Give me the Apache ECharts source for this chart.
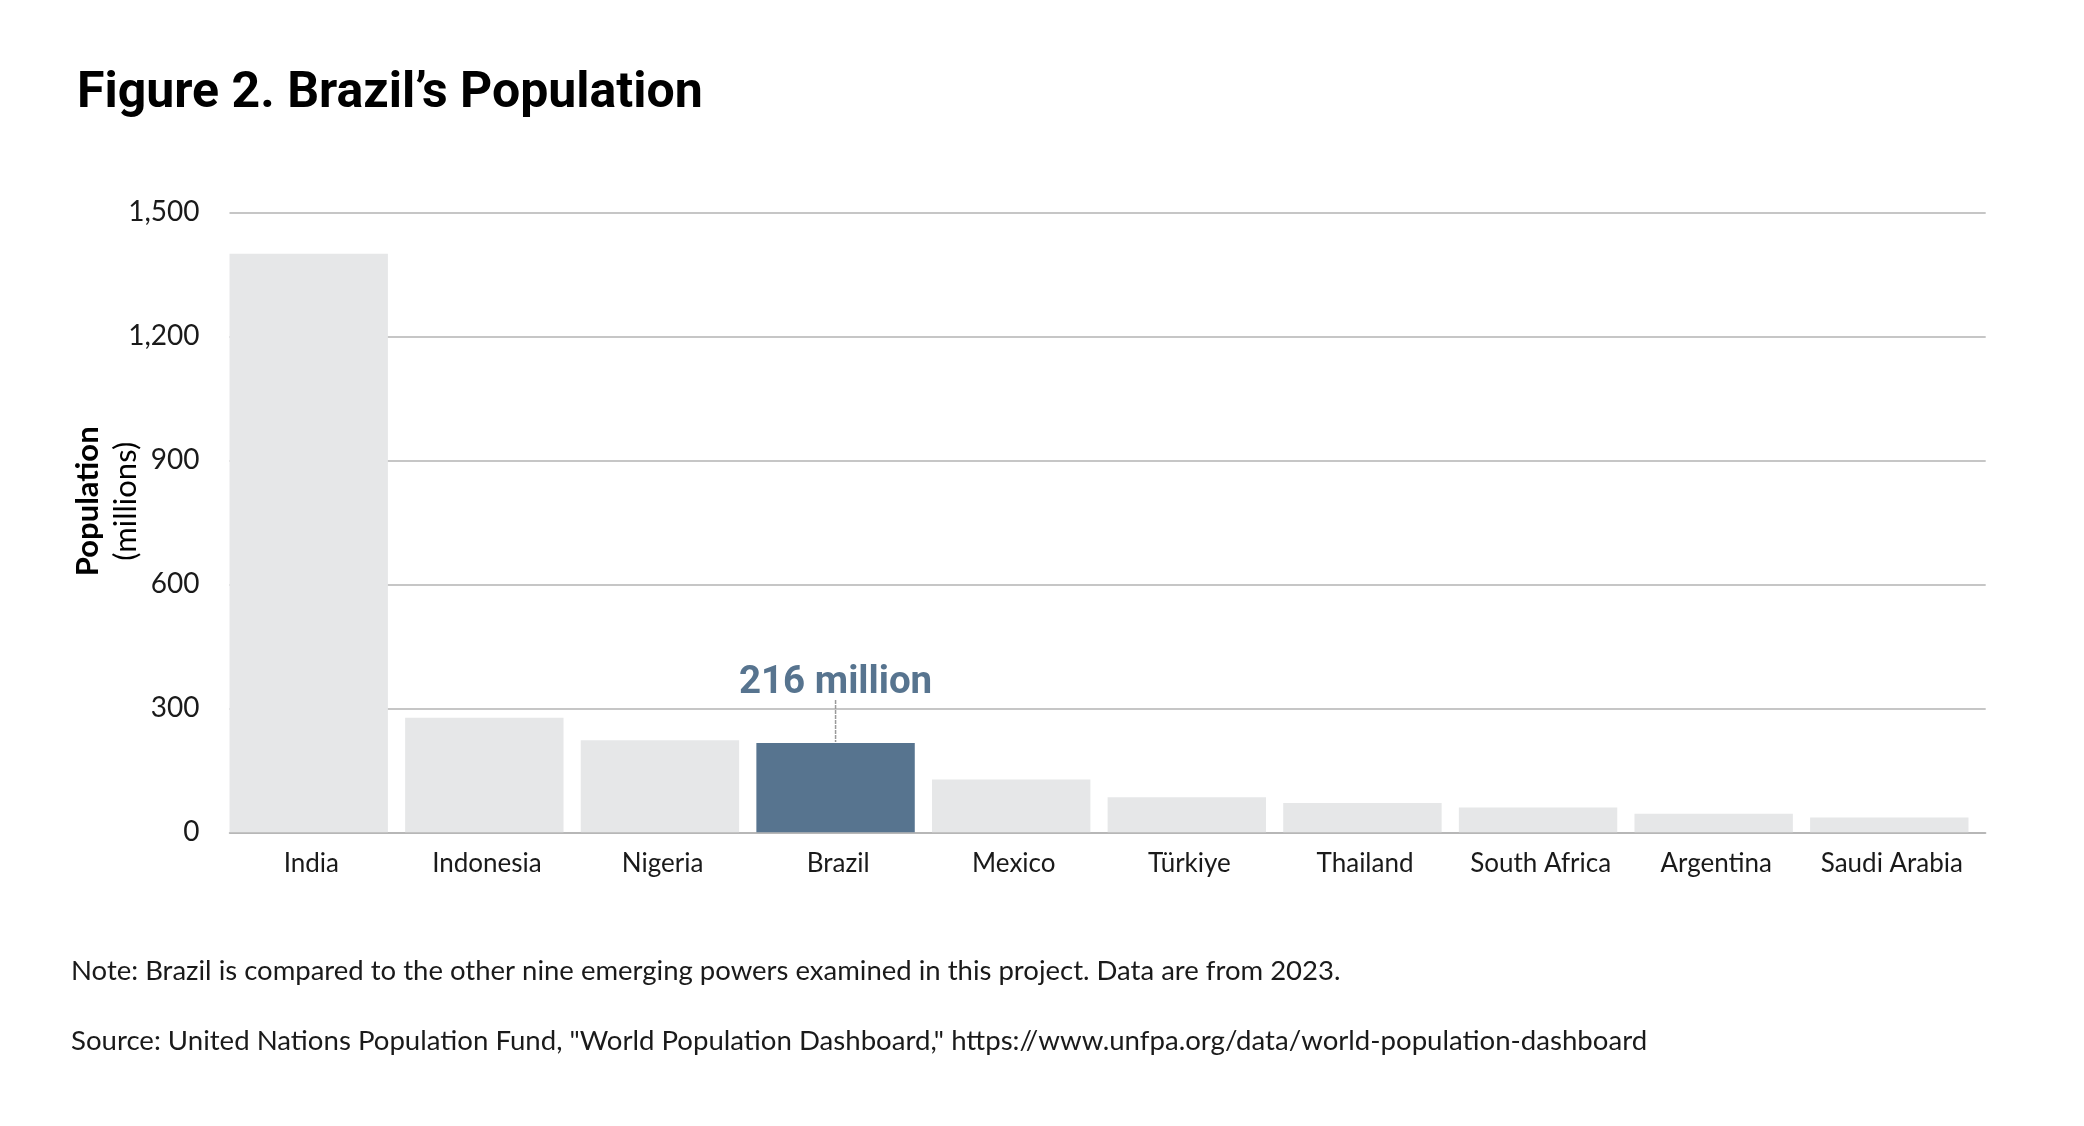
<!DOCTYPE html>
<html>
<head>
<meta charset="utf-8">
<script src="https://cdn.jsdelivr.net/npm/echarts@6/dist/echarts.min.js"></script>
<style>
html,body{margin:0;padding:0;background:#fff;}
#chart{width:2084px;height:1126px;}
</style>
</head>
<body>
<div id="chart"></div>
<script>
// ---- data ----
const categories = ['India','Indonesia','Nigeria','Brazil','Mexico','Türkiye','Thailand','South Africa','Argentina','Saudi Arabia'];
const population = [1400, 277, 223, 216, 128, 85, 71, 60, 45, 36];
const highlightCountry = 'Brazil';
const highlightLabel = '216 million';
const yTicks = [0, 300, 600, 900, 1200, 1500];
const titleText = 'Figure 2. Brazil’s Population';
const noteText = 'Note: Brazil is compared to the other nine emerging powers examined in this project. Data are from 2023.';
const sourceText = 'Source: United Nations Population Fund, "World Population Dashboard," https://www.unfpa.org/data/world-population-dashboard';

const BODY = 'Lato, "Open Sans", sans-serif';
const COND = 'Roboto, "Noto Sans", sans-serif';
const GRAY = '#e6e7e8';
const BLUE = '#57748f';
const GRID = '#b3b3b3';

const barData = population.map((v, i) => {
  if (categories[i] === highlightCountry) {
    return {
      value: v,
      itemStyle: { color: BLUE },
      label: {
        show: true,
        position: 'top',
        distance: 1,
        formatter: '{a|' + highlightLabel + '}\n{l|}',
        rich: {
          a: { fontFamily: COND, fontWeight: 'bold', fontSize: 38.5, color: BLUE, lineHeight: 33 },
          l: { width: 0, height: 42, borderColor: '#9a9a9a', borderWidth: 1.5, borderType: [2, 3] }
        }
      }
    };
  }
  return v;
});

const chart = echarts.init(document.getElementById('chart'), null, { renderer: 'canvas' });
chart.setOption({
  backgroundColor: '#ffffff',
  animation: false,
  title: [
    { text: titleText, left: 72, top: 64, textStyle: { fontFamily: COND, fontWeight: 'bold', fontSize: 50, color: '#000' } },
    { text: noteText, left: 66, top: 952, textStyle: { fontFamily: BODY, fontWeight: 'normal', fontSize: 27.5, color: '#1a1a1a' } },
    { text: sourceText, left: 66, top: 1022, textStyle: { fontFamily: BODY, fontWeight: 'normal', fontSize: 27.6, color: '#1a1a1a' } }
  ],
  grid: { left: 229.5, right: 98.3, top: 212.3, bottom: 293.7, containLabel: false },
  xAxis: {
    type: 'category',
    data: categories,
    boundaryGap: true,
    axisLine: { show: true, lineStyle: { color: GRID, width: 1.5 } },
    axisTick: { show: false },
    axisLabel: { fontFamily: BODY, fontSize: 26, color: '#1a1a1a', margin: 18, padding: [0, 12, 0, 0], interval: 0 }
  },
  yAxis: {
    type: 'value',
    min: yTicks[0],
    max: yTicks[yTicks.length - 1],
    interval: yTicks[1] - yTicks[0],
    name: '{b|Population}\n{r|(millions)}',
    nameLocation: 'middle',
    nameRotate: 90,
    nameGap: 85,
    nameMoveOverlap: false,
    nameTextStyle: {
      padding: [0, 0, 0, 42],
      rich: {
        b: { fontFamily: BODY, fontWeight: 'bold', fontSize: 31, color: '#000', lineHeight: 38 },
        r: { fontFamily: BODY, fontSize: 31, color: '#000', lineHeight: 38 }
      }
    },
    axisLine: { show: false },
    axisTick: { show: false },
    axisLabel: { fontFamily: BODY, fontSize: 28, color: '#1a1a1a', margin: 30,
      formatter: v => v.toLocaleString('en-US') },
    splitLine: { show: true, lineStyle: { color: GRID, width: 1.5 } }
  },
  series: [
    {
      name: 'Population',
      type: 'bar',
      data: barData,
      barWidth: 158.4,
      barGap: '0%',
      itemStyle: { color: GRAY },
      emphasis: { disabled: true }
    },
    {
      name: 'spacer',
      type: 'bar',
      data: categories.map(() => '-'),
      barWidth: 17.2,
      silent: true,
      itemStyle: { color: 'transparent' }
    }
  ]
});
</script>
</body>
</html>
